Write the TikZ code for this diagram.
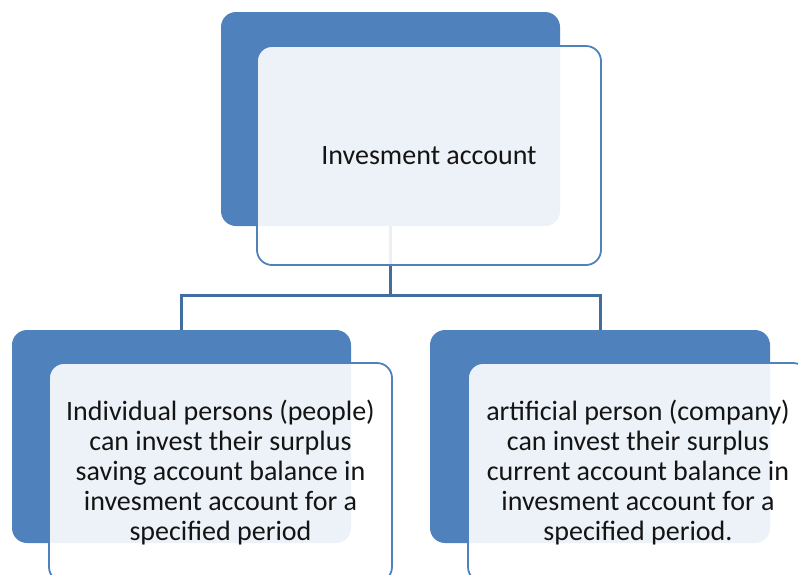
\documentclass[tikz,border=0pt]{standalone}
\usepackage{fontspec}
\setmainfont{Carlito}
\definecolor{accent}{RGB}{79,129,189}
\definecolor{connC}{RGB}{65,110,160}
\definecolor{txt}{RGB}{20,20,20}
\begin{document}
\begin{tikzpicture}[x=1pt,y=-1pt,
  back/.style={fill=accent, rounded corners=15pt, inner sep=0pt},
  front/.style={draw=accent, line width=1.8pt, fill=white, fill opacity=0.9, text opacity=1,
    rounded corners=15pt, align=center, inner sep=0pt, text=txt,
    font=\fontsize{28pt}{30pt}\selectfont},
  conn/.style={draw=connC, line width=3pt}]
\useasboundingbox (0,0) rectangle (798,574);
\clip (0,0) rectangle (798,574);
% back plates
\node[back, minimum width=339pt, minimum height=214pt] (rootback) at (390.5,119) {};
\node[back, minimum width=339pt, minimum height=213pt] (leftback) at (181.5,436.5) {};
\node[back, minimum width=340pt, minimum height=213pt] (rightback) at (600,436.5) {};
% connectors
\coordinate (bus) at (390.5,295);
\draw[conn] (rootback.south) -- (bus) -| (leftback.north);
\draw[conn] (bus) -| (rightback.north);
% front boxes
\node[front, minimum width=344pt, minimum height=219pt] (root) at (429,155.5) {Invesment account};
\node[front, minimum width=343pt, minimum height=219pt] (left) at (220.5,472.5)
  {Individual persons (people)\\can invest their surplus\\saving account balance in\\invesment account for a\\specified period};
\node[front, minimum width=340pt, minimum height=219pt] (right) at (638,472.5)
  {artificial person (company)\\can invest their surplus\\current account balance in\\invesment account for a\\specified period.};
\end{tikzpicture}
\end{document}
